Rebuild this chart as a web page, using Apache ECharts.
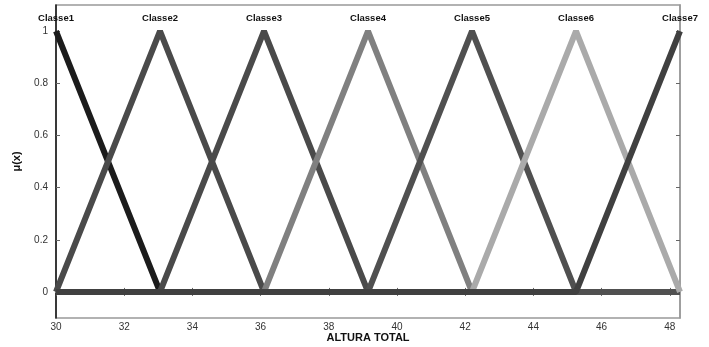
<!DOCTYPE html>
<html>
<head>
<meta charset="utf-8">
<script src="https://cdn.jsdelivr.net/npm/echarts@6/dist/echarts.min.js"></script>
<style>html,body{margin:0;padding:0;background:#fff}#c{width:709px;height:347px}</style>
</head>
<body>
<div id="c"></div>
<script>
var classNames = ['Classe1','Classe2','Classe3','Classe4','Classe5','Classe6','Classe7'];
// breakpoints (x) and membership values (y) of each triangular function
var classX = [
  [30, 33.05, 48.3],
  [30, 33.05, 36.1, 48.3],
  [30, 33.05, 36.1, 39.15, 48.3],
  [30, 36.1, 39.15, 42.2, 48.3],
  [30, 39.15, 42.2, 45.25, 48.3],
  [30, 42.2, 45.25, 48.3],
  [30, 45.25, 48.3]
];
var classY = [
  [1, 0, 0],
  [0, 1, 0, 0],
  [0, 0, 1, 0, 0],
  [0, 0, 1, 0, 0],
  [0, 0, 1, 0, 0],
  [0, 0, 1, 0],
  [0, 0, 1]
];
var colors = ['#1c1c1c','#4a4a4a','#4a4a4a','#808080','#505050','#aaaaaa','#404040'];
var xTicks = [30,32,34,36,38,40,42,44,46,48];
var yTicks = [0,0.2,0.4,0.6,0.8,1];

var font = 'Liberation Sans, Arial, sans-serif';
var series = classNames.map(function (name, i) {
  return {
    name: name, type: 'line', xAxisIndex: 0, yAxisIndex: 0,
    symbol: 'circle', symbolSize: 0, showAllSymbol: true, z: 3 + i,
    itemStyle: { color: colors[i] },
    lineStyle: { color: colors[i], width: 6, join: 'bevel', cap: 'butt' },
    emphasis: { disabled: true },
    data: classX[i].map(function (x, j) {
      var pt = { value: [x, classY[i][j]] };
      if (classY[i][j] === 1) {
        pt.label = { show: true, position: 'top', distance: 8, formatter: name,
          color: '#111', fontSize: 9.5, fontWeight: 'bold', fontFamily: font };
      }
      return pt;
    })
  };
});
// empty helper series so the top and right axes are drawn
series.push({ type: 'line', xAxisIndex: 1, yAxisIndex: 1, data: [], silent: true });

var chart = echarts.init(document.getElementById('c'));
chart.setOption({
  animation: false,
  grid: { left: 56, right: 29, top: 5, bottom: 29, containLabel: false, outerBoundsMode: 'none',
    show: true, borderColor: '#999', borderWidth: 1.5, backgroundColor: 'transparent' },
  xAxis: [{
    type: 'value', min: 30, max: 48.3, position: 'bottom',
    name: 'ALTURA TOTAL', nameLocation: 'middle', nameGap: 14, nameMoveOverlap: false,
    nameTextStyle: { fontSize: 11, fontWeight: 'bold', color: '#111', fontFamily: font },
    axisLine: { show: true, lineStyle: { color: '#999', width: 1.5 } },
    axisTick: { show: true, inside: true, length: 4, customValues: xTicks, lineStyle: { color: '#666' } },
    axisLabel: { customValues: xTicks, fontSize: 10, color: '#333', margin: 4, fontFamily: font },
    splitLine: { show: false }
  }, {
    type: 'value', min: 30, max: 48.3, position: 'top',
    axisLine: { show: true, lineStyle: { color: '#999', width: 1.5 } },
    axisTick: { show: true, inside: true, length: 4, customValues: xTicks, lineStyle: { color: '#666' } },
    axisLabel: { show: false }, splitLine: { show: false }
  }],
  yAxis: [{
    type: 'value', min: -0.1, max: 1.1, position: 'left',
    name: 'μ(x)', nameLocation: 'middle', nameGap: 34, nameRotate: 90, nameMoveOverlap: false,
    nameTextStyle: { fontSize: 11, fontWeight: 'bold', color: '#111', fontFamily: font },
    axisLine: { show: true, lineStyle: { color: '#111', width: 1.5 } },
    axisTick: { show: true, inside: true, length: 4, customValues: yTicks, lineStyle: { color: '#666' } },
    axisLabel: { customValues: yTicks, fontSize: 10, color: '#333', margin: 8, fontFamily: font,
      formatter: function (v) { return String(Math.round(v * 10) / 10); } },
    splitLine: { show: false }
  }, {
    type: 'value', min: -0.1, max: 1.1, position: 'right',
    axisLine: { show: true, lineStyle: { color: '#999', width: 1.5 } },
    axisTick: { show: true, inside: true, length: 4, customValues: yTicks, lineStyle: { color: '#666' } },
    axisLabel: { show: false }, splitLine: { show: false }
  }],
  series: series
});
</script>
</body>
</html>
